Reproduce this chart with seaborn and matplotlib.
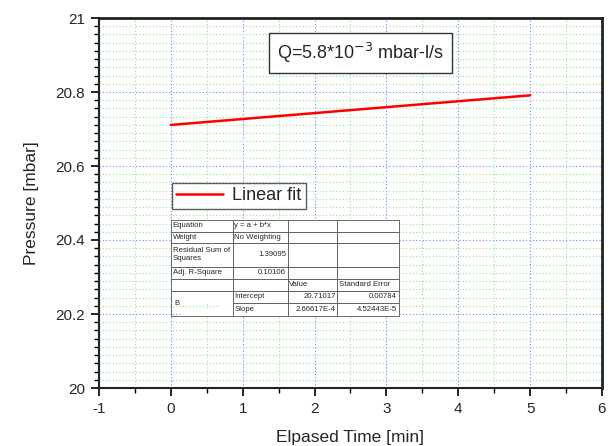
import matplotlib
matplotlib.use("Agg")
import matplotlib.pyplot as plt
import matplotlib.ticker as ticker
from matplotlib.table import Table
import seaborn as sns
import pandas as pd

# data for the linear fit line
time_min = [0, 5]
pressure_mbar = [20.711, 20.791]

# fit report table
table_rows = [
    ["Equation", "y = a + b*x", "", ""],
    ["Weight", "No Weighting", "", ""],
    ["Residual Sum of\nSquares", "1.39095", "", ""],
    ["Adj. R-Square", "0.10106", "", ""],
    ["", "", "Value", "Standard Error"],
    ["", "Intercept", "20.71017", "0.00784"],
    ["", "Slope", "2.66617E-4", "4.52443E-5"],
]
row_heights = [1.0, 0.95, 2.0, 1.0, 1.0, 1.05, 1.1]
col_widths = [61.7, 55, 50, 61.6]

sns.set_theme(style="white")
plt.rcParams['font.family'] = ['Liberation Sans', 'DejaVu Sans']

df = pd.DataFrame({"time": time_min, "pressure": pressure_mbar})

fig = plt.figure(figsize=(6.13, 4.46), dpi=100)
ax = fig.add_axes([99 / 613, 58 / 446, 503 / 613, 370 / 446])

sns.lineplot(data=df, x="time", y="pressure", ax=ax, color="#ff0000",
             linewidth=1.8, label="Linear fit")

ax.set_xlim(-1, 6)
ax.set_ylim(20, 21)
ax.xaxis.set_major_locator(ticker.MultipleLocator(1))
ax.xaxis.set_minor_locator(ticker.AutoMinorLocator(2))
ax.yaxis.set_major_locator(ticker.MultipleLocator(0.2))
ax.yaxis.set_minor_locator(ticker.AutoMinorLocator(9))
ax.yaxis.set_major_formatter(ticker.FuncFormatter(lambda v, p: f"{v:g}"))
ax.xaxis.set_major_formatter(ticker.FuncFormatter(lambda v, p: f"{v:g}"))

# grid: blue dotted on majors, green dotted on minors
ax.grid(which="major", color="#7f7fff", linestyle=(0, (1, 2)), linewidth=0.8)
ax.grid(which="minor", color="#8fe88f", linestyle=(0, (1, 2)), linewidth=0.8)
ax.set_axisbelow(True)

ax.tick_params(which="major", direction="out", length=6, width=1.2,
               color="black", labelsize=11, pad=4,
               bottom=True, left=True, top=False, right=False)
ax.tick_params(which="minor", direction="out", length=3.5, width=1.0,
               color="black", bottom=True, left=True)
for side, sp in ax.spines.items():
    sp.set_visible(True)
    sp.set_color("#222222")
    sp.set_linewidth(1.5 if side in ("left", "bottom") else 2.0)

ax.set_xlabel("Elpased Time [min]", fontsize=12.5, labelpad=10)
ax.set_ylabel("Pressure [mbar]", fontsize=12.5, labelpad=12)

leg = ax.legend(loc="upper left", bbox_to_anchor=(0.145, 0.555),
                fontsize=13, frameon=True, fancybox=False, handlelength=2.6,
                borderpad=0.25, handletextpad=0.5, borderaxespad=0)
leg.get_frame().set_edgecolor("#333333")
leg.get_frame().set_linewidth(1.0)

ax.text(0.52, 0.905, "Q=5.8*10$^{-3}$ mbar-l/s", transform=ax.transAxes,
        fontsize=13, ha="center", va="center",
        bbox=dict(boxstyle="square,pad=0.45", facecolor="white",
                  edgecolor="#333333", linewidth=1.0))

# fit report table
tb_x, tb_y = (171 - 99) / 503, (388 - 316) / 370
tb_w, tb_h = 228 / 503, 96 / 370
tb = Table(ax, bbox=[tb_x, tb_y, tb_w, tb_h])
right_cells = {(2, 1), (3, 1), (5, 2), (5, 3), (6, 2), (6, 3)}
for r, row in enumerate(table_rows):
    for c, txt in enumerate(row):
        loc = "right" if (r, c) in right_cells else "left"
        cell = tb.add_cell(r, c, width=col_widths[c], height=row_heights[r],
                           text=txt, loc=loc, edgecolor="#555555",
                           facecolor="white")
        cell.set_linewidth(0.6)
        cell.get_text().set_fontsize(5.6)
        cell.PAD = 0.03
        if (r, c) == (5, 0):
            cell.visible_edges = "LTR"
        if (r, c) == (6, 0):
            cell.visible_edges = "LBR"
tb.auto_set_font_size(False)
tb.set_zorder(5)
ax.add_table(tb)

# "B" label spans the last two rows
b_y = tb_y + (row_heights[6] + row_heights[5]) / 2 / sum(row_heights) * tb_h
ax.text(tb_x + 0.006, b_y, "B", transform=ax.transAxes, fontsize=5.6,
        ha="left", va="center", zorder=6)

fig.savefig("out.png", dpi=100)
plt.close(fig)
